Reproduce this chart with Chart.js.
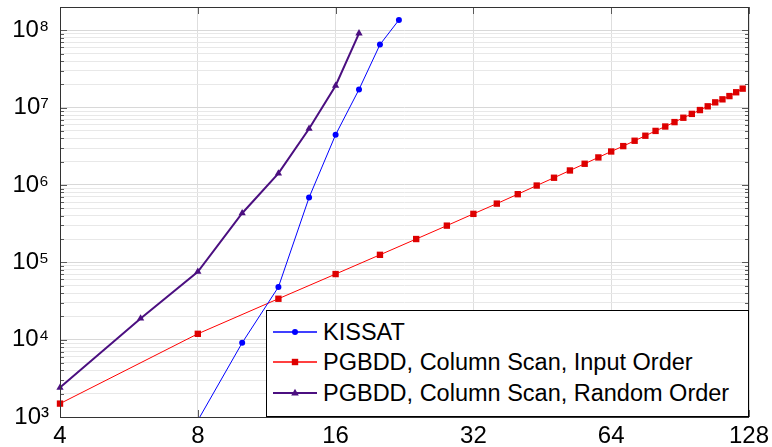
<!DOCTYPE html>
<html>
<head>
<meta charset="utf-8">
<script src="https://cdn.jsdelivr.net/npm/chart.js@4.4.1/dist/chart.umd.min.js"></script>
<style>
  body { margin: 0; background: #fff; }
  #wrap { position: relative; width: 772px; height: 447px; }
  #legend {
    position: absolute; left: 266px; top: 310px; width: 481px; height: 105px;
    border: 1px solid #000; background: #fff;
    font-family: "Liberation Sans", Arial, sans-serif; font-size: 23.5px; color: #000;
  }
  #legend .row { position: absolute; left: 0; height: 30px; display: flex; align-items: center; white-space: nowrap; }
  #legend svg { margin-left: 6px; margin-right: 6px; }
</style>
</head>
<body>
<div id="wrap">
  <canvas id="chart" width="772" height="447"></canvas>
  <div id="legend"></div>
</div>
<script>
// KISSAT (blue circles)
const kissatN = [8, 10, 12, 14, 16, 18, 20, 22];
const kissatVals = [900, 9100, 47900, 687000, 4460000, 17200000, 65300000, 136000000];

// PGBDD, column scan, input order (red squares)
const inputN = [4, 8, 12, 16, 20, 24, 28, 32, 36, 40, 44, 48, 52, 56, 60, 64,
                68, 72, 76, 80, 84, 88, 92, 96, 100, 104, 108, 112, 116, 120, 124];
const inputVals = [1490, 11900, 33800, 70500, 125000, 200000, 298000, 423000, 574000, 760000,
                   983000, 1240000, 1540000, 1880000, 2270000, 2710000, 3180000, 3730000, 4330000,
                   5000000, 5700000, 6500000, 7400000, 8300000, 9300000, 10400000, 11700000,
                   12800000, 14100000, 15800000, 17600000];

// PGBDD, column scan, random order (purple triangles)
const randomN = [4, 6, 8, 10, 12, 14, 16, 18];
const randomVals = [2400, 18800, 75500, 431000, 1410000, 5330000, 19200000, 91400000];

const seriesNames = ['KISSAT', 'PGBDD, Column Scan, Input Order', 'PGBDD, Column Scan, Random Order'];
const seriesColors = ['#0000ff', '#ff0000', '#4b0f80'];
const markerColors = ['#0000ff', '#dd0000', '#4b0f80'];

const xTicks = [4, 8, 16, 32, 64, 128];
const xTickLabels = ['4', '8', '16', '32', '64', '128'];
const yDecades = [1e3, 1e4, 1e5, 1e6, 1e7, 1e8];
const yTickLabels = ['10³', '10⁴', '10⁵', '10⁶', '10⁷', '10⁸'];
const yMin = 1e3, yMax = 2e8;

const toPoints = (xs, ys) => xs.map((x, i) => ({ x: x, y: ys[i] }));

// minor ticks 2..9 in every decade, plus the decades themselves
function yTickList() {
    const list = [];
    yDecades.forEach(d => {
        for (let k = 1; k <= 9; k++) {
            const v = d * k;
            if (v <= yMax) list.push({ value: v, major: k === 1 });
        }
    });
    return list;
}

// inward tick marks + frame, pgfplots style
const frameTicks = {
    id: 'frameTicks',
    afterDatasetsDraw(chart) {
        const { ctx, chartArea: a, scales: { x, y } } = chart;
        ctx.save();
        ctx.strokeStyle = '#5a5a5a';
        ctx.lineWidth = 1;
        ctx.beginPath();
        y.ticks.forEach(t => {
            const py = Math.round(y.getPixelForValue(t.value)) + 0.5;
            const len = t.major ? 7 : 4;
            ctx.moveTo(a.left, py); ctx.lineTo(a.left + len, py);
            ctx.moveTo(a.right, py); ctx.lineTo(a.right - len, py);
        });
        x.ticks.forEach(t => {
            const px = Math.round(x.getPixelForValue(t.value)) + 0.5;
            ctx.moveTo(px, a.top); ctx.lineTo(px, a.top + 7);
            ctx.moveTo(px, a.bottom); ctx.lineTo(px, a.bottom - 7);
        });
        ctx.stroke();
        ctx.strokeStyle = '#333';
        ctx.strokeRect(a.left + 0.5, a.top + 0.5, a.right - a.left - 1, a.bottom - a.top);
        ctx.restore();
    }
};

const font = { family: '"Liberation Sans", Arial, sans-serif', size: 24 };

new Chart(document.getElementById('chart').getContext('2d'), {
    type: 'line',
    data: {
        datasets: [
            {
                label: seriesNames[0],
                data: toPoints(kissatN, kissatVals),
                borderColor: seriesColors[0],
                backgroundColor: markerColors[0],
                borderWidth: 1,
                pointStyle: 'circle',
                pointRadius: 3,
                pointBorderWidth: 0
            },
            {
                label: seriesNames[1],
                data: toPoints(inputN, inputVals),
                borderColor: seriesColors[1],
                backgroundColor: markerColors[1],
                borderWidth: 1,
                pointStyle: 'rect',
                pointRadius: 4.5,
                pointBorderWidth: 0
            },
            {
                label: seriesNames[2],
                data: toPoints(randomN, randomVals),
                borderColor: seriesColors[2],
                backgroundColor: markerColors[2],
                borderWidth: 2,
                pointStyle: 'triangle',
                pointRadius: 4.2,
                pointBorderWidth: 0
            }
        ]
    },
    options: {
        responsive: false,
        animation: false,
        devicePixelRatio: 1,
        layout: { padding: { top: 7, right: 23, left: 0, bottom: 0 } },
        datasets: { line: { tension: 0, clip: { left: 6, top: 6, right: 6, bottom: 0 } } },
        plugins: { legend: { display: false }, tooltip: { enabled: false } },
        scales: {
            x: {
                type: 'logarithmic',
                min: 4,
                max: 128,
                afterBuildTicks: scale => { scale.ticks = xTicks.map(v => ({ value: v, major: true })); },
                afterFit: scale => {
                    scale.height = 30;
                    scale.paddingLeft = 0;
                    scale.paddingRight = 0;
                },
                ticks: {
                    autoSkip: false,
                    maxRotation: 0,
                    padding: 5,
                    color: '#000',
                    font: font,
                    callback: value => {
                        const i = xTicks.indexOf(value);
                        return i >= 0 ? xTickLabels[i] : '';
                    }
                },
                grid: { color: '#dedede', drawTicks: false },
                border: { display: false }
            },
            y: {
                type: 'logarithmic',
                min: yMin,
                max: yMax,
                afterBuildTicks: scale => { scale.ticks = yTickList(); },
                afterFit: scale => {
                    scale.width = 60;
                    scale.paddingTop = 0;
                    scale.paddingBottom = 0;
                },
                ticks: {
                    autoSkip: false,
                    padding: 11,
                    color: '#000',
                    font: font,
                    callback: value => {
                        const i = yDecades.indexOf(value);
                        return i >= 0 ? yTickLabels[i] : '';
                    }
                },
                grid: {
                    color: c => (c.tick && c.tick.major) ? '#d8d8d8' : '#e8e8e8',
                    drawTicks: false
                },
                border: { display: false }
            }
        }
    },
    plugins: [frameTicks]
});

// legend box drawn over the plot area (bottom-right), like the original
function markerSvg(i) {
    const c = markerColors[i];
    let mark = '';
    if (i === 0) mark = `<circle cx="22" cy="15" r="3" fill="${c}"/>`;
    if (i === 1) mark = `<rect x="18.8" y="11.8" width="6.4" height="6.4" fill="${c}"/>`;
    if (i === 2) mark = `<polygon points="22,10.8 25.8,17.4 18.2,17.4" fill="${c}"/>`;
    const w = i === 2 ? 2 : 1.3;
    return `<svg width="44" height="30"><line x1="0" y1="15" x2="44" y2="15" stroke="${seriesColors[i]}" stroke-width="${w}"/>${mark}</svg>`;
}

const legend = document.getElementById('legend');
const rowTops = [6, 36, 67];
seriesNames.forEach((name, i) => {
    const row = document.createElement('div');
    row.className = 'row';
    row.style.top = rowTops[i] + 'px';
    row.innerHTML = markerSvg(i) + '<span>' + name + '</span>';
    legend.appendChild(row);
});
</script>
</body>
</html>
